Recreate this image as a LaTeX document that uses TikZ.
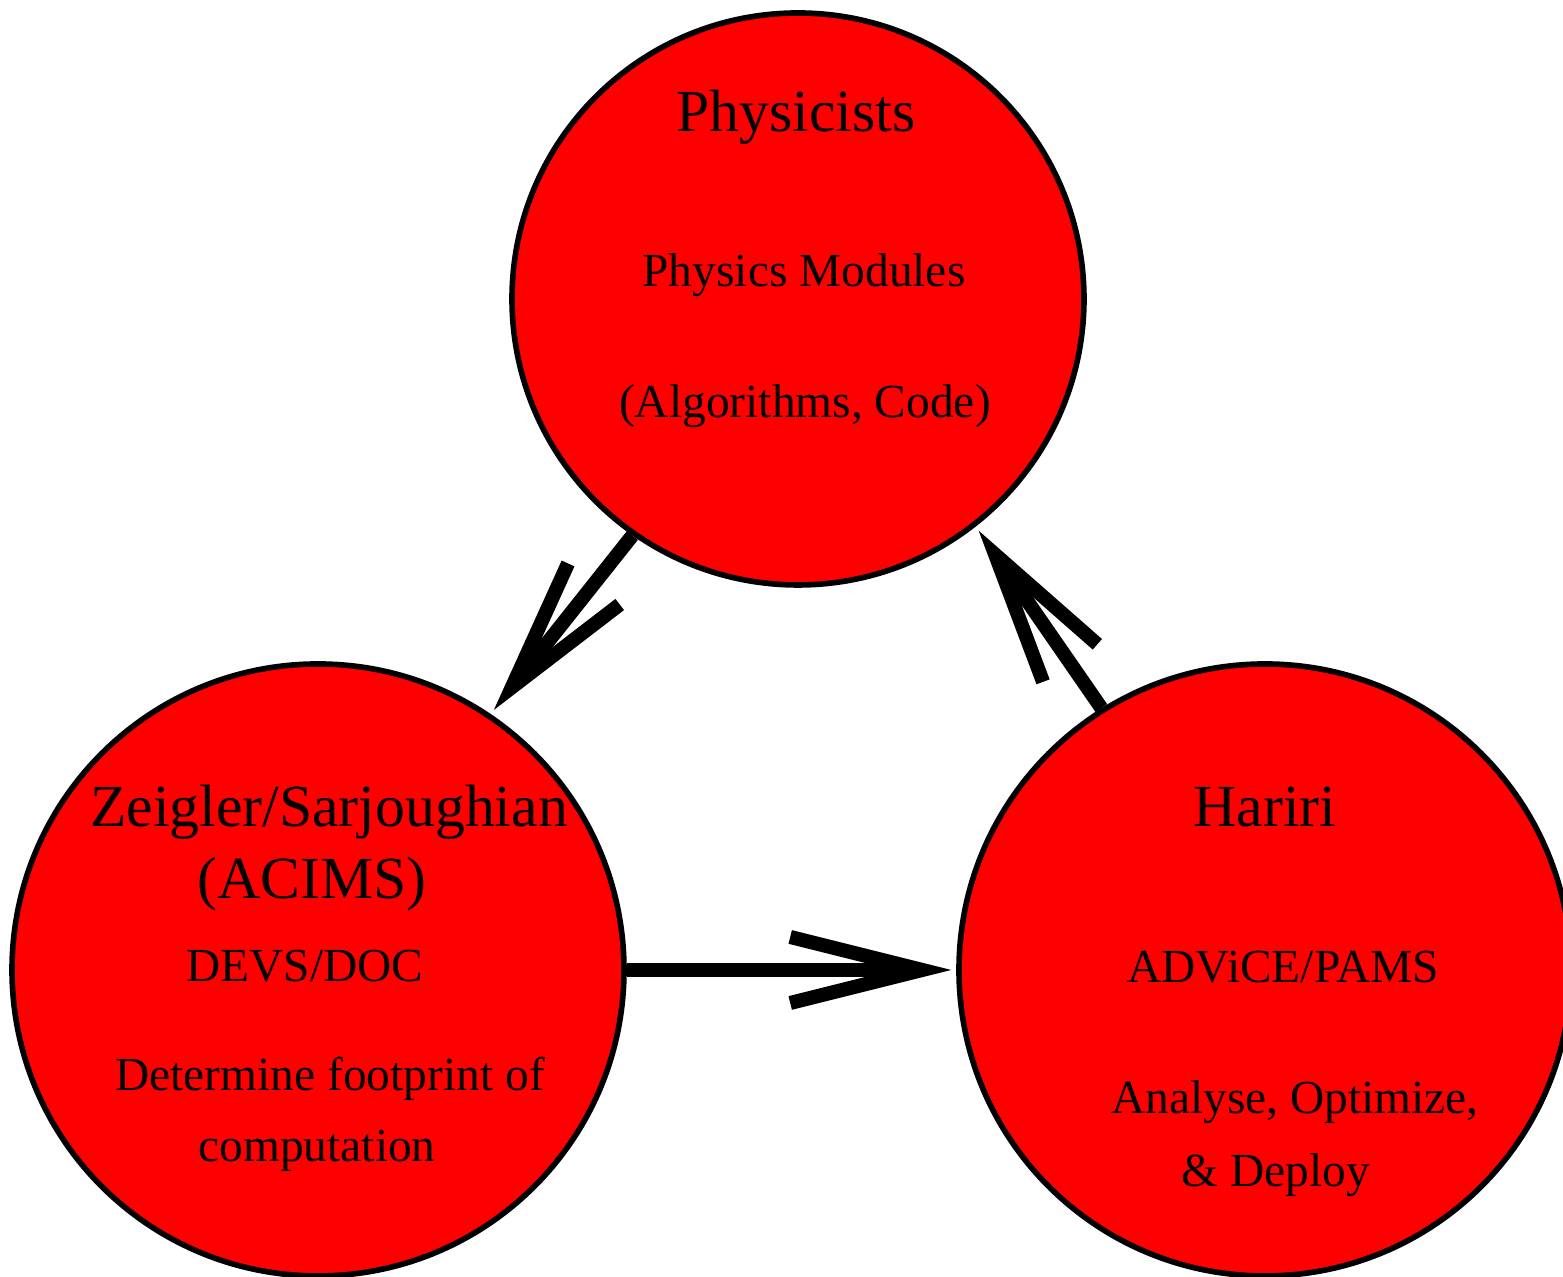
\documentclass[tikz,border=0pt]{standalone}
\usepackage{fontspec}
\setmainfont{Liberation Serif}
\usetikzlibrary{arrows.meta}

\begin{document}
\begin{tikzpicture}
	\useasboundingbox (0,0) rectangle (15.63,12.77);

	\begin{scope}[every node/.style={circle,draw=black,fill=red,line width=1.6pt}]
		\node[minimum size=5.72cm] (Phys) at (7.98,9.78) {};
		\node[minimum size=6.12cm] (Zeig) at (3.18,3.07) {};
		\node[minimum size=6.12cm] (Hari) at (12.65,3.07) {};
	\end{scope}

	\begin{scope}[every node/.style={anchor=base,inner sep=0pt,font=\fontsize{13.5pt}{16pt}\selectfont}]
		\node[font=\fontsize{17pt}{20pt}\selectfont] (PhysT) at (7.96,11.45) {Physicists};
		\node (PhysA) at (8.04,9.90) {Physics Modules};
		\node (PhysB) at (8.05,8.59) {(Algorithms, Code)};

		\node[font=\fontsize{17pt}{20pt}\selectfont] (ZeigT) at (3.29,4.50) {Zeigler/Sarjoughian};
		\node[font=\fontsize{17pt}{20pt}\selectfont] (ZeigU) at (3.12,3.78) {(ACIMS)};
		\node (ZeigA) at (3.05,2.95) {DEVS/DOC};
		\node (ZeigB) at (3.30,1.86) {Determine footprint of};
		\node (ZeigC) at (3.17,1.15) {computation};

		\node[font=\fontsize{17pt}{20pt}\selectfont] (HariT) at (12.65,4.50) {Hariri};
		\node (HariA) at (12.83,2.94) {ADViCE/PAMS};
		\node (HariB) at (12.95,1.63) {Analyse, Optimize,};
		\node (HariC) at (12.76,0.90) {\& Deploy};
	\end{scope}

	\begin{scope}[>={Straight Barb[length=1.32cm,width=0.66cm]},
		every edge/.style={draw=black,line width=4pt,shorten >=0.5mm}]
		\path [->] (Phys.235) edge (Zeig.56);

		\path [->] (Zeig.east) edge (Hari.west);

		\path [->] (Hari.122.6) edge (Phys.308.2);
	\end{scope}
\end{tikzpicture}
\end{document}
